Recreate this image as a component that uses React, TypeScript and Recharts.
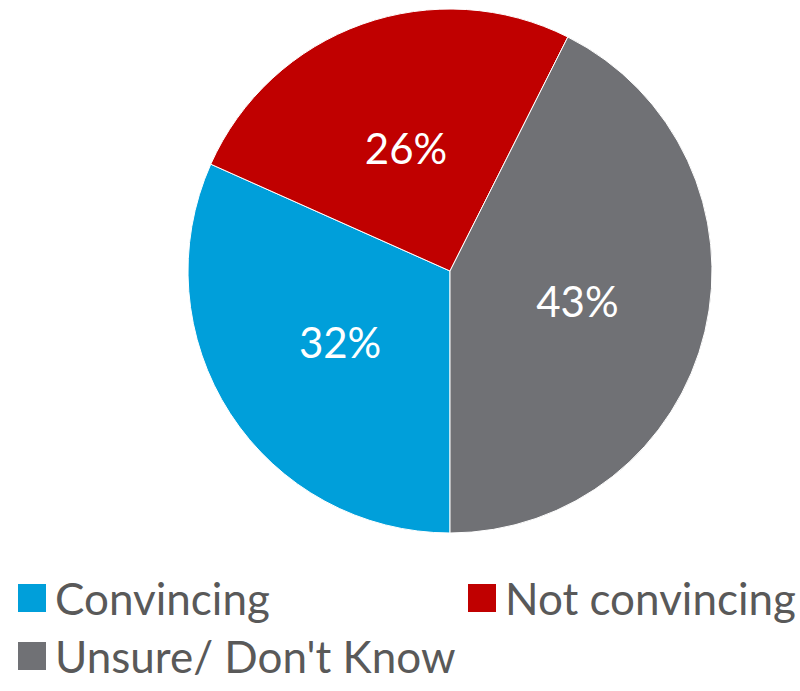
import { PieChart, Pie, Cell, Legend } from "recharts"

const categories = ["Convincing", "Not convincing", "Unsure/ Don't Know"]
const values = [32, 26, 43]
const colors = ["#009FDA", "#C00000", "#707175"]

const data = categories.map((name, i) => ({ name, value: values[i] }))

const RADIAN = Math.PI / 180

const renderLabel = (props: any) => {
  const { cx, cy, midAngle, outerRadius, value } = props
  const r = outerRadius * 0.5
  const x = cx + r * Math.cos(-midAngle * RADIAN)
  const y = cy + r * Math.sin(-midAngle * RADIAN)
  return (
    <text x={x} y={y} fill="#ffffff" textAnchor="middle" dominantBaseline="central" fontSize={42} fontFamily="Lato, 'Open Sans', sans-serif">
      {`${value}%`}
    </text>
  )
}

const renderLegend = () => (
  <div style={{ position: "relative", width: 800, height: 120, fontFamily: "Lato, 'Open Sans', sans-serif", fontSize: 44, color: "#595959" }}>
    {data.map((d, i) => {
      const left = i === 1 ? 468 : 18
      const top = i === 2 ? 58 : 0
      return (
        <div key={d.name} style={{ position: "absolute", left, top, height: 50, display: "flex", alignItems: "center", whiteSpace: "nowrap" }}>
          <span style={{ display: "inline-block", width: 28, height: 28, background: colors[i], marginRight: 9 }} />
          <span>{d.name}</span>
        </div>
      )
    })}
  </div>
)

export default function App() {
  return (
    <div style={{ position: "absolute", left: 0, top: 0, width: 800, height: 691, background: "#ffffff" }}>
      <PieChart width={800} height={691}>
        <Pie
          data={data}
          dataKey="value"
          nameKey="name"
          cx={445}
          cy={266}
          outerRadius={262}
          startAngle={-90}
          endAngle={-450}
          stroke="#ffffff"
          strokeWidth={1}
          label={renderLabel}
          labelLine={false}
          isAnimationActive={false}
        >
          {data.map((d, i) => (
            <Cell key={d.name} fill={colors[i]} />
          ))}
        </Pie>
        <Legend content={renderLegend} wrapperStyle={{ position: "absolute", left: 0, top: 573, width: 800 }} />
      </PieChart>
    </div>
  )
}
